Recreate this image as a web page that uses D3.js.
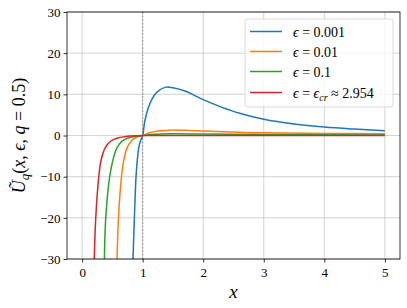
<!DOCTYPE html>
<html>
<head>
<meta charset="utf-8">
<script src="https://cdn.jsdelivr.net/npm/d3@7"></script>
<style>
  body { margin: 0; background: #fff; }
  svg text { font-family: "Liberation Serif", "DejaVu Serif", serif; }
</style>
</head>
<body>
<svg id="chart" width="407" height="308"></svg>
<script>
// values
var xTicks = [0, 1, 2, 3, 4, 5];
var yTicks = [-30, -20, -10, 0, 10, 20, 30];

var blue = [[0.84,-30],[0.863,-20],[0.89,-10],[0.91,-6.2],[0.935,-3.0],[0.965,-1.3],[1.0,0],[1.033,3.3],
  [1.09,6.6],[1.16,9.0],[1.24,10.6],[1.38,11.75],[1.5,11.6],[1.7,10.8],[2.0,8.7],[2.3,6.9],
  [2.6,5.4],[3.0,3.95],[3.5,2.8],[4.0,2.05],[4.5,1.55],[5.0,1.15]];
var orange = [[0.577,-30],[0.6,-20],[0.65,-10],[0.685,-6.2],[0.74,-3.0],[0.81,-1.37],[0.88,-0.55],
  [1,0],[1.1,0.6],[1.25,1.1],[1.45,1.3],[1.7,1.25],[2,1.1],[2.5,0.85],[3,0.65],[4,0.5],[5,0.4]];
var green = [[0.368,-30],[0.39,-20],[0.455,-10],[0.505,-6.2],[0.575,-3.0],[0.66,-1.37],[0.77,-0.55],
  [0.88,-0.2],[1,0],[1.2,0.3],[1.5,0.4],[2,0.35],[3,0.25],[5,0.15]];
var red = [[0.2,-30],[0.225,-20],[0.275,-10],[0.31,-6.2],[0.38,-3.0],[0.47,-1.4],[0.6,-0.55],
  [0.75,-0.2],[1,0],[1.5,0.02],[5,0]];

var seriesNames = ["0.001", "0.01", "0.1", "cr"];
var seriesData = [blue, orange, green, red];
var colors = ["#1f77b4", "#ff7f0e", "#2ca02c", "#d62728"];

var L = 67, R = 400, T = 12, B = 259;
var serif = "'Liberation Serif', 'DejaVu Serif', serif";
var svg = d3.select("#chart");

var x = d3.scaleLinear().domain([-0.25, 5.25]).range([L, R]);
var y = d3.scaleLinear().domain([-30, 30]).range([B, T]);

// grid
svg.append("g").selectAll("line").data(xTicks).enter().append("line")
  .attr("x1", d => x(d)).attr("x2", d => x(d)).attr("y1", T).attr("y2", B)
  .attr("stroke", "#b0b0b0").attr("stroke-opacity", 0.7).attr("stroke-width", 0.8);
svg.append("g").selectAll("line").data(yTicks).enter().append("line")
  .attr("x1", L).attr("x2", R).attr("y1", d => y(d)).attr("y2", d => y(d))
  .attr("stroke", "#b0b0b0").attr("stroke-opacity", 0.7).attr("stroke-width", 0.8);

// dashed line at x = 1
svg.append("line")
  .attr("x1", x(1)).attr("x2", x(1)).attr("y1", T).attr("y2", B)
  .attr("stroke", "#808080").attr("stroke-width", 0.8).attr("stroke-dasharray", "2,1.5");

svg.append("clipPath").attr("id", "clip").append("rect")
  .attr("x", L).attr("y", T).attr("width", R - L).attr("height", B - T);

var line = d3.line().x(d => x(d[0])).y(d => y(d[1])).curve(d3.curveCatmullRom.alpha(0.5));
svg.append("g").attr("clip-path", "url(#clip)")
  .selectAll("path").data(seriesData).enter().append("path")
  .attr("d", line).attr("fill", "none")
  .attr("stroke", (d, i) => colors[i]).attr("stroke-width", 1.5);

// axes
var xAxis = svg.append("g").attr("transform", "translate(0," + B + ")")
  .call(d3.axisBottom(x).tickValues(xTicks).tickSize(3.5).tickPadding(3).tickFormat(d3.format("d")));
var yAxis = svg.append("g").attr("transform", "translate(" + L + ",0)")
  .call(d3.axisLeft(y).tickValues(yTicks).tickSize(3.5).tickPadding(3)
    .tickFormat(d => d < 0 ? "\u2212" + Math.abs(d) : d));
[xAxis, yAxis].forEach(function (a) {
  a.attr("font-family", serif).attr("font-size", 13);
  a.select(".domain").remove();
  a.selectAll("text").attr("fill", "#000");
  a.selectAll("line").attr("stroke", "#000").attr("stroke-width", 0.8);
});
xAxis.selectAll("text").attr("dy", "0.9em");

svg.append("rect").attr("x", L).attr("y", T).attr("width", R - L).attr("height", B - T)
  .attr("fill", "none").attr("stroke", "#000").attr("stroke-width", 0.8);

// axis labels
svg.append("text").attr("x", (L + R) / 2).attr("y", 298).attr("text-anchor", "middle")
  .attr("font-size", 19).attr("font-style", "italic").text("x");

var yl = svg.append("text").attr("transform", "translate(25," + ((T + B) / 2) + ") rotate(-90)")
  .attr("text-anchor", "middle").attr("font-size", 18);
yl.append("tspan").attr("font-style", "italic").text("\u0168");
yl.append("tspan").attr("font-style", "italic").attr("font-size", 13).attr("dy", 4).text("q");
yl.append("tspan").attr("dy", -4).text("(");
yl.append("tspan").attr("font-style", "italic").text("x");
yl.append("tspan").text(", ");
yl.append("tspan").attr("font-style", "italic").text("\u03f5");
yl.append("tspan").text(", ");
yl.append("tspan").attr("font-style", "italic").text("q");
yl.append("tspan").text(" = 0.5)");

// legend
var lg = svg.append("g");
lg.append("rect").attr("x", 245).attr("y", 19).attr("width", 148).attr("height", 88)
  .attr("rx", 2.5).attr("fill", "#fff").attr("fill-opacity", 0.8)
  .attr("stroke", "#d0d0d0").attr("stroke-width", 0.8);
var rowY = [31.5, 51.5, 71.5, 92.5];
seriesNames.forEach(function (name, i) {
  lg.append("line").attr("x1", 250).attr("x2", 282).attr("y1", rowY[i]).attr("y2", rowY[i])
    .attr("stroke", colors[i]).attr("stroke-width", 1.5);
  var t = lg.append("text").attr("x", 293).attr("y", rowY[i] + 5).attr("font-size", 14);
  t.append("tspan").attr("font-style", "italic").text("\u03f5");
  if (name === "cr") {
    t.append("tspan").text(" = ");
    t.append("tspan").attr("font-style", "italic").text("\u03f5");
    t.append("tspan").attr("font-style", "italic").attr("font-size", 10).attr("dy", 3).text("cr");
    t.append("tspan").attr("dy", -3).text(" \u2248 2.954");
  } else {
    t.append("tspan").text(" = " + name);
  }
});
</script>
</body>
</html>
